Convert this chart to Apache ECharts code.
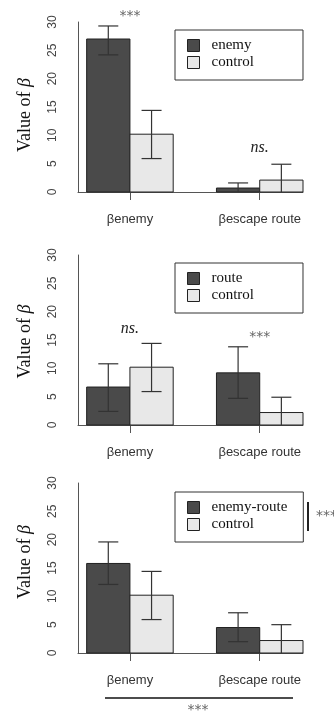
<!DOCTYPE html>
<html>
<head>
<meta charset="utf-8">
<script src="https://cdn.jsdelivr.net/npm/echarts@6/dist/echarts.min.js"></script>
<style>
html,body{margin:0;padding:0;background:#fff;}
#c{width:334px;height:713px;}
</style>
</head>
<body>
<div id="c"></div>
<script>
// ---- data ----
const categories = ['βenemy', 'βescape route'];
const treatmentNames = ['enemy', 'route', 'enemy-route'];
const controlName = 'control';
const treatmentValues = [[27.0, 0.7], [6.7, 9.2], [15.8, 4.5]];
const treatmentLow = [[24.2, 0], [2.4, 4.7], [12.1, 2.0]];
const treatmentHigh = [[29.3, 1.6], [10.8, 13.8], [19.6, 7.1]];
const controlValues = [[10.2, 2.1], [10.2, 2.2], [10.2, 2.2]];
const controlLow = [[5.9, 0], [5.9, 0], [5.9, 0]];
const controlHigh = [[14.4, 4.9], [14.4, 4.9], [14.4, 5.0]];
const yTickLabels = ['0', '5', '10', '15', '20', '25', '30'];
const sigLabels = [['***', 'ns.'], ['ns.', '***'], [null, null]];
const sideSig = '***';
const bottomSig = '***';

// ---- layout ----
const gridTops = [22, 255, 483];
const gridHeight = 170;
const legendTops = [30, 263, 492];
const legendRightPad = [49, 49, 16];
const nameShiftPad = [[0, 16, 0, 0], [0, 3, 0, 0], [0, 0, 0, 12]];
const sigY = [[31.0, 7.8], [17.0, 15.5], [null, null]];
const darkColor = '#4a4a4a';
const lightColor = '#e8e8e8';
const edgeColor = '#222';

const chart = echarts.init(document.getElementById('c'), null, {renderer: 'canvas'});

const grids = [], xAxes = [], yAxes = [], series = [], legends = [];

function barSeries(p, name, values, slot, color) {
  const data = values.map((v, g) => {
    const x0 = 1 + 3 * g + slot;
    return [x0, x0 + 1, v];
  });
  return {
    type: 'custom', name: name, xAxisIndex: p, yAxisIndex: p,
    itemStyle: {color: color, borderColor: edgeColor, borderWidth: 1},
    encode: {x: [0, 1], y: 2},
    data: data,
    renderItem: function (params, api) {
      const a = api.coord([api.value(0), api.value(2)]);
      const b = api.coord([api.value(1), 0]);
      return {type: 'rect',
        shape: {x: a[0], y: a[1], width: b[0] - a[0], height: b[1] - a[1]},
        style: {fill: color, stroke: edgeColor, lineWidth: 1}};
    }
  };
}

function errSeries(p, lows, highs, slot) {
  const data = lows.map((lo, g) => [1 + 3 * g + slot + 0.5, lo, highs[g]]);
  return {
    type: 'custom', xAxisIndex: p, yAxisIndex: p, silent: true, z: 5,
    encode: {x: 0, y: [1, 2]},
    data: data,
    renderItem: function (params, api) {
      const x = api.value(0), lo = api.value(1), hi = api.value(2);
      const top = api.coord([x, hi]);
      const bot = api.coord([x, lo]);
      const cap = 10;
      const st = {stroke: '#333', lineWidth: 1.2};
      const children = [
        {type: 'line', shape: {x1: top[0], y1: top[1], x2: bot[0], y2: bot[1]}, style: st},
        {type: 'line', shape: {x1: top[0] - cap, y1: top[1], x2: top[0] + cap, y2: top[1]}, style: st}
      ];
      if (lo > 0) children.push({type: 'line', shape: {x1: bot[0] - cap, y1: bot[1], x2: bot[0] + cap, y2: bot[1]}, style: st});
      return {type: 'group', children: children};
    }
  };
}

for (let p = 0; p < 3; p++) {
  grids.push({left: 78, right: 31, top: gridTops[p], height: gridHeight});
  xAxes.push({
    type: 'value', gridIndex: p, min: 0.8, max: 6,
    splitLine: {show: false},
    axisLine: {show: true, onZero: false, lineStyle: {color: '#555', width: 1}},
    axisTick: {show: true, length: 8, lineStyle: {color: '#555'}, customValues: [2, 5]},
    axisLabel: {show: true, customValues: [2, 5], margin: 21,
      color: '#333', fontFamily: 'Liberation Sans', fontSize: 13,
      formatter: function (v) { return categories[Math.round((v - 2) / 3)]; }}
  });
  yAxes.push({
    type: 'value', gridIndex: p, min: 0, max: 30, interval: 5,
    splitLine: {show: false},
    axisLine: {show: true, lineStyle: {color: '#555', width: 1}},
    axisTick: {show: false},
    axisLabel: {rotate: 90, margin: 19, color: '#444', fontFamily: 'Liberation Sans', fontSize: 12,
      formatter: function (v) { return yTickLabels[Math.round(v / 5)]; }},
    name: '{a|Value of }{b|β}',
    nameLocation: 'middle', nameRotate: 90, nameGap: 44,
    nameTextStyle: {
      padding: nameShiftPad[p],
      rich: {
        a: {fontFamily: 'Liberation Serif', fontSize: 18, color: '#111'},
        b: {fontFamily: 'Liberation Serif', fontSize: 18, fontStyle: 'italic', color: '#111'}
      }
    }
  });
  series.push(barSeries(p, treatmentNames[p], treatmentValues[p], 0, darkColor));
  series.push(barSeries(p, controlName, controlValues[p], 1, lightColor));
  series.push(errSeries(p, treatmentLow[p], treatmentHigh[p], 0));
  series.push(errSeries(p, controlLow[p], controlHigh[p], 1));
  // significance labels above groups
  const sig = [];
  sigLabels[p].forEach((t, g) => { if (t) sig.push([2 + 3 * g, sigY[p][g], g]); });
  series.push({
    type: 'custom', xAxisIndex: p, yAxisIndex: p, silent: true, clip: false, z: 6,
    data: sig,
    renderItem: function (params, api) {
      const pt = api.coord([api.value(0), api.value(1)]);
      const t = sigLabels[p][api.value(2)];
      const isNs = t === 'ns.';
      return {type: 'text', x: pt[0], y: pt[1],
        style: {text: t, align: 'center', verticalAlign: 'middle',
          fontFamily: isNs ? 'Liberation Serif' : 'DejaVu Sans',
          fontStyle: isNs ? 'italic' : 'normal',
          fontSize: isNs ? 16 : 14, fill: isNs ? '#222' : '#666'}};
    }
  });
  legends.push({
    orient: 'vertical', left: 175, top: legendTops[p],
    padding: [8, legendRightPad[p], 10, 12],
    itemGap: 2, itemWidth: 12, itemHeight: 12,
    borderColor: '#333', borderWidth: 1, backgroundColor: '#fff',
    selectedMode: false,
    textStyle: {fontFamily: 'Liberation Serif', fontSize: 15, color: '#111', lineHeight: 15, padding: [0, 0, 0, 7]},
    data: [
      {name: treatmentNames[p], icon: 'rect', itemStyle: {color: darkColor, borderColor: edgeColor, borderWidth: 1}},
      {name: controlName, icon: 'rect', itemStyle: {color: lightColor, borderColor: edgeColor, borderWidth: 1}}
    ]
  });
}

chart.setOption({
  animation: false,
  grid: grids, xAxis: xAxes, yAxis: yAxes, series: series, legend: legends,
  graphic: [
    {type: 'line', shape: {x1: 308, y1: 502, x2: 308, y2: 531}, style: {stroke: '#222', lineWidth: 2}},
    {type: 'text', left: 316, top: 509, style: {text: sideSig, fontFamily: 'DejaVu Sans', fontSize: 14, fill: '#666'}},
    {type: 'line', shape: {x1: 105, y1: 698, x2: 293, y2: 698}, style: {stroke: '#111', lineWidth: 1.5}},
    {type: 'text', x: 198, y: 710, style: {text: bottomSig, align: 'center', verticalAlign: 'middle', fontFamily: 'DejaVu Sans', fontSize: 14, fill: '#666'}}
  ]
});
</script>
</body>
</html>
